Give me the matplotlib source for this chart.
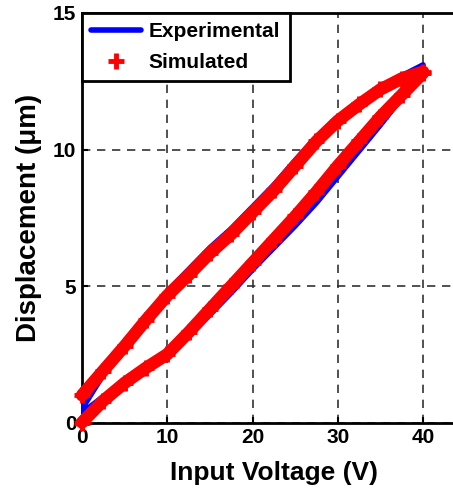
import numpy as np
import matplotlib
matplotlib.use("Agg")
from matplotlib import pyplot as plt

plt.rcParams['font.family'] = ['Liberation Sans', 'DejaVu Sans']
plt.rcParams['font.weight'] = 'bold'

# input voltage (V), rising then falling branch
volt_rise = [0, 2.5, 5, 7.5, 10, 12.5, 15, 17.5, 20, 22.5, 25, 27.5, 30, 32.5, 35, 37.5, 40]
volt_fall = volt_rise[::-1]

# displacement (um)
exp_rise = [0.35, 0.95, 1.45, 1.95, 2.45, 3.15, 3.95, 4.75, 5.6, 6.4, 7.2, 8.05, 9.0, 9.95, 10.9, 11.9, 13.1]
exp_fall = [13.1, 12.7, 12.3, 11.75, 11.15, 10.45, 9.6, 8.7, 7.9, 7.1, 6.4, 5.6, 4.8, 3.85, 2.85, 1.75, 0.5]

sim_rise = [0.0, 0.8, 1.45, 2.0, 2.5, 3.3, 4.15, 5.0, 5.85, 6.7, 7.55, 8.45, 9.4, 10.3, 11.2, 12.0, 12.8]
sim_fall = [12.85, 12.6, 12.2, 11.65, 11.05, 10.3, 9.4, 8.5, 7.7, 6.9, 6.2, 5.4, 4.65, 3.75, 2.8, 1.9, 1.0]

exp_x = volt_rise + volt_fall
exp_y = exp_rise + exp_fall
sim_x = volt_rise + volt_fall
sim_y = sim_rise + sim_fall

fig = plt.figure(figsize=(4.53, 5.0), dpi=100)
ax = fig.add_axes([0.181, 0.155, 0.847, 0.819])

ax.plot(exp_x, exp_y, color='blue', lw=4, solid_joinstyle='round',
        solid_capstyle='round', label='Experimental', zorder=3)
# thick red band under the markers
ax.plot(sim_x, sim_y, color='red', lw=9, solid_joinstyle='round',
        solid_capstyle='round', zorder=4, clip_on=False)
ax.plot(sim_x, sim_y, ls='none', marker='+', ms=12, mew=3.5, color='red',
        label='Simulated', zorder=5, clip_on=False)

ax.set_xlim(0, 45)
ax.set_ylim(0, 15)
ax.set_xticks([0, 10, 20, 30, 40])
ax.set_yticks([0, 5, 10, 15])
ax.tick_params(direction='in', length=4, width=1.5, labelsize=15, pad=4)
for lab in ax.get_xticklabels() + ax.get_yticklabels():
    lab.set_fontweight('bold')

ax.grid(True, ls=(0, (5, 4)), color='#333333', lw=1.2)
for s in ax.spines.values():
    s.set_linewidth(2)

ax.set_xlabel('Input Voltage (V)', fontsize=19, fontweight='bold', labelpad=10)
ax.set_ylabel('Displacement (\u03bcm)', fontsize=20, fontweight='bold', labelpad=8)

leg = ax.legend(loc='upper left', borderaxespad=0, fontsize=15, handlelength=2.4,
                handletextpad=0.35, fancybox=False, framealpha=1, edgecolor='black',
                borderpad=0.45, labelspacing=0.55)
leg.get_frame().set_linewidth(2)
for t in leg.get_texts():
    t.set_fontweight('bold')

plt.savefig('out.png', dpi=100)
